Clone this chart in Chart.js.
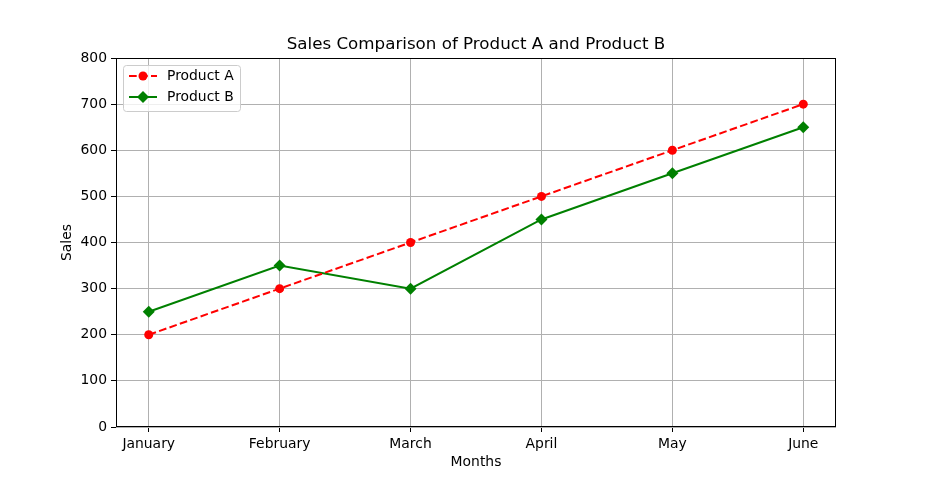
<!DOCTYPE html>
<html><head><meta charset="utf-8">
<script src="https://cdn.jsdelivr.net/npm/chart.js@4"></script>
<style>html,body{margin:0;padding:0;background:#fff}#w{width:928px;height:480px}</style>
</head><body><div id="w"><canvas id="c" width="928" height="480"></canvas></div>
<script>
const months = ["January","February","March","April","May","June"];
const productA = [200,300,400,500,600,700];
const productB = [250,350,300,450,550,650];
const yTicks = [0,100,200,300,400,500,600,700,800];
const titleText = "Sales Comparison of Product A and Product B";
const xTitle = "Months";
const yTitle = "Sales";
const FONT = "'DejaVu Sans', sans-serif";

const legendPlugin = {
  id: 'mplLegend',
  afterDraw(chart) {
    const ctx = chart.ctx, a = chart.chartArea;
    const x0 = a.left + 7, y0 = a.top + 7, w = 117, h = 46;
    ctx.save();
    ctx.fillStyle = 'rgba(255,255,255,0.8)';
    ctx.strokeStyle = '#cccccc';
    ctx.lineWidth = 1;
    ctx.beginPath();
    if (ctx.roundRect) ctx.roundRect(x0+0.5, y0+0.5, w, h, 3); else ctx.rect(x0+0.5,y0+0.5,w,h);
    ctx.fill(); ctx.stroke();
    chart.data.datasets.forEach((ds, i) => {
      const cy = y0 + 11 + i * 21;
      ctx.strokeStyle = ds.borderColor;
      ctx.lineWidth = 2;
      ctx.setLineDash(ds.borderDash || []);
      ctx.beginPath(); ctx.moveTo(x0+6, cy); ctx.lineTo(x0+34, cy); ctx.stroke();
      ctx.setLineDash([]);
      ctx.fillStyle = ds.pointBackgroundColor;
      ctx.beginPath();
      const mx = x0 + 20;
      if (ds.pointStyle === 'rectRot') {
        const r = 6;
        ctx.moveTo(mx, cy-r); ctx.lineTo(mx+r, cy); ctx.lineTo(mx, cy+r); ctx.lineTo(mx-r, cy); ctx.closePath();
      } else {
        ctx.arc(mx, cy, 4.5, 0, Math.PI*2);
      }
      ctx.fill();
      ctx.fillStyle = '#000';
      ctx.font = '13.9px ' + FONT;
      ctx.textBaseline = 'middle';
      ctx.textAlign = 'left';
      ctx.fillText(ds.label, x0 + 44, cy + 0.5);
    });
    ctx.restore();
  }
};
const framePlugin = {
  id: 'mplFrame',
  afterDatasetsDraw(chart) {
    const ctx = chart.ctx, a = chart.chartArea;
    ctx.save();
    ctx.strokeStyle = '#000';
    ctx.lineWidth = 1;
    const l = Math.round(a.left)+0.5, t = Math.round(a.top)+0.5, r = Math.round(a.right)-0.5, b = Math.round(a.bottom)-0.5;
    ctx.strokeRect(l, t, r-l, b-t);
    ctx.restore();
  },
  afterDraw(chart) {
    const ctx = chart.ctx, a = chart.chartArea;
    ctx.save();
    ctx.fillStyle = '#000';
    ctx.font = '16.7px ' + FONT;
    ctx.textAlign = 'center';
    ctx.textBaseline = 'alphabetic';
    ctx.fillText(titleText, (a.left + a.right)/2, a.top - 9);
    ctx.font = '13.9px ' + FONT;
    ctx.textBaseline = 'middle';
    ctx.fillText(xTitle, (a.left + a.right)/2, a.bottom + 35);
    ctx.translate(a.left - 49, (a.top + a.bottom)/2);
    ctx.rotate(-Math.PI/2);
    ctx.fillText(yTitle, 0, 0);
    ctx.restore();
  }
};

new Chart(document.getElementById('c'), {
  type: 'line',
  data: {
    datasets: [
      { label: 'Product A', data: productA.map((v,i)=>({x:i,y:v})), borderColor:'#ff0000', backgroundColor:'#ff0000',
        pointBackgroundColor:'#ff0000', pointBorderColor:'#ff0000', pointStyle:'circle', pointRadius:4.5, pointBorderWidth:0,
        borderWidth:2, borderDash:[7.7,3.3], tension:0, fill:false },
      { label: 'Product B', data: productB.map((v,i)=>({x:i,y:v})), borderColor:'#008000', backgroundColor:'#008000',
        pointBackgroundColor:'#008000', pointBorderColor:'#008000', pointStyle:'rectRot', pointRadius:6, pointBorderWidth:0,
        borderWidth:2, tension:0, fill:false }
    ]
  },
  options: {
    responsive: false, animation: false, devicePixelRatio: 1,
    layout: { padding: { top: 58, right: 92, bottom: 0, left: 0 } },
    plugins: { legend: { display: false }, title: { display: false }, tooltip: { enabled: false } },
    scales: {
      x: {
        type: 'linear', min: -0.25, max: 5.25,
        afterBuildTicks(s) { s.ticks = months.map((m,i)=>({value:i})); },
        afterFit(s) { s.height = 53; },
        ticks: { callback: (v) => months[v], color:'#000', font:{family:FONT, size:13.9}, padding: 4, maxRotation:0, autoSkip:false },
        grid: { color:'#b0b0b0', lineWidth:1, tickColor:'#000', tickLength:5, drawTicks:true },
        border: { display:false },
        title: { display:false }
      },
      y: {
        type: 'linear', min: 0, max: 800,
        afterBuildTicks(s) { s.ticks = yTicks.map(v=>({value:v})); },
        afterFit(s) { s.width = 116; },
        ticks: { color:'#000', font:{family:FONT, size:13.9}, padding: 4 },
        grid: { color:'#b0b0b0', lineWidth:1, tickColor:'#000', tickLength:5, drawTicks:true },
        border: { display:false },
        title: { display:false }
      }
    }
  },
  plugins: [framePlugin, legendPlugin]
});
</script></body></html>
